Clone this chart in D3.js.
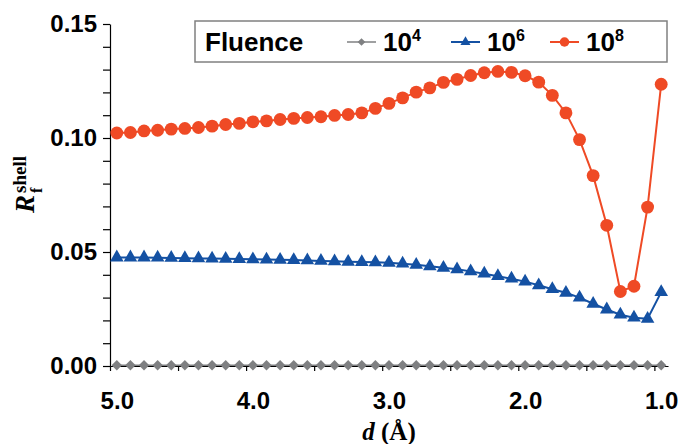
<!DOCTYPE html>
<html>
<head>
<meta charset="utf-8">
<script src="https://cdn.jsdelivr.net/npm/d3@7"></script>
<style>
  body { margin: 0; background: #fff; }
  .axis text { font-family: Arial, "Liberation Sans", sans-serif; font-weight: bold; font-size: 24px; fill: #000; }
  .axis path, .axis line { stroke: #000; stroke-width: 1.2; }
  .legendText { font-family: Arial, "Liberation Sans", sans-serif; font-weight: bold; font-size: 26px; fill: #000; }
  .serif { font-family: "Times New Roman", "Liberation Serif", serif; font-weight: bold; fill: #000; }
</style>
</head>
<body>
<div class="chart"></div>
<script>
// Data: d from 5.0 down to 1.0 in steps of 0.1
var dValues = [5.0, 4.9, 4.8, 4.7, 4.6, 4.5, 4.4, 4.3, 4.2, 4.1,
               4.0, 3.9, 3.8, 3.7, 3.6, 3.5, 3.4, 3.3, 3.2, 3.1,
               3.0, 2.9, 2.8, 2.7, 2.6, 2.5, 2.4, 2.3, 2.2, 2.1,
               2.0, 1.9, 1.8, 1.7, 1.6, 1.5, 1.4, 1.3, 1.2, 1.1, 1.0];

var fluence1e4 = [0.0003, 0.0003, 0.0003, 0.0003, 0.0003, 0.0003, 0.0003, 0.0003, 0.0003, 0.0003,
                  0.0003, 0.0003, 0.0003, 0.0003, 0.0003, 0.0003, 0.0003, 0.0003, 0.0003, 0.0003,
                  0.0003, 0.0003, 0.0003, 0.0003, 0.0003, 0.0003, 0.0003, 0.0003, 0.0003, 0.0003,
                  0.0003, 0.0003, 0.0003, 0.0003, 0.0003, 0.0003, 0.0003, 0.0003, 0.0003, 0.0003, 0.0003];

var fluence1e6 = [0.0476, 0.0476, 0.0476, 0.0475, 0.0474, 0.0473, 0.0472, 0.0471, 0.0470, 0.0469,
                  0.0468, 0.0467, 0.0466, 0.0465, 0.0463, 0.0461, 0.0459, 0.0457, 0.0456, 0.0455,
                  0.0453, 0.0449, 0.0444, 0.0437, 0.0431, 0.0424, 0.0415, 0.0405, 0.0394, 0.0383,
                  0.0370, 0.0354, 0.0337, 0.0321, 0.0300, 0.0273, 0.0248, 0.0225, 0.0212, 0.0207, 0.0324];

var fluence1e8 = [0.1022, 0.1024, 0.1031, 0.1034, 0.1039, 0.1042, 0.1046, 0.1052, 0.1059, 0.1064,
                  0.1071, 0.1075, 0.1081, 0.1086, 0.1090, 0.1093, 0.1099, 0.1103, 0.1110, 0.1130,
                  0.1152, 0.1176, 0.1201, 0.1220, 0.1244, 0.1257, 0.1274, 0.1286, 0.1292, 0.1288,
                  0.1273, 0.1245, 0.1187, 0.1110, 0.0993, 0.0835, 0.0617, 0.0327, 0.0350, 0.0697, 0.1236];

var yMajorTicks = [0.00, 0.05, 0.10, 0.15];
var xTickLabels = [5.0, 4.0, 3.0, 2.0, 1.0];
var legendBase = ["10", "10", "10"];
var legendExp = ["4", "6", "8"];

// Set up our chart
var svgWidth = 678;
var svgHeight = 444;
var margin = { top: 24, right: 10, bottom: 78, left: 110 };
var width = svgWidth - margin.left - margin.right;
var height = svgHeight - margin.top - margin.bottom;

var svg = d3.select(".chart")
    .append("svg")
    .attr("width", svgWidth)
    .attr("height", svgHeight);

var chartGroup = svg.append("g")
    .attr("transform", `translate(${margin.left},${margin.top})`);

// Category-style x axis: each d value sits in the middle of a 0.1 wide slot
var xScale = d3.scaleLinear()
    .domain([5.05, 0.95])
    .range([0, width]);

var yScale = d3.scaleLinear()
    .domain([0, 0.15])
    .range([height, 0]);

// y axis with minor ticks every 0.01
var yTickValues = d3.range(0, 16).map(i => i / 100);
var leftAxis = d3.axisLeft(yScale)
    .tickValues(yTickValues)
    .tickSize(7)
    .tickSizeOuter(0)
    .tickPadding(6)
    .tickFormat(d => yMajorTicks.some(m => Math.abs(m - d) < 1e-9) ? d3.format(".2f")(d) : "");

chartGroup.append("g")
    .attr("class", "axis")
    .call(leftAxis);

// x axis: tick marks on slot boundaries, labels on whole numbers
var xBoundaries = d3.range(0, 9).map(k => 5.05 - 0.5 * k);
var bottomAxis = d3.axisBottom(xScale)
    .tickValues(xBoundaries)
    .tickSize(5)
    .tickSizeOuter(0)
    .tickFormat("");

chartGroup.append("g")
    .attr("class", "axis")
    .attr("transform", `translate(0, ${height})`)
    .call(bottomAxis);

var labelAxis = d3.axisBottom(xScale)
    .tickValues(xTickLabels)
    .tickSize(0)
    .tickPadding(26)
    .tickFormat(d3.format(".1f"));

var labelGroup = chartGroup.append("g")
    .attr("class", "axis")
    .attr("transform", `translate(0, ${height})`)
    .call(labelAxis);
labelGroup.select(".domain").remove();

// Series
var series = [
  { values: fluence1e4, color: "#7f8082", shape: "diamond", lw: 1.5 },
  { values: fluence1e6, color: "#1451a3", shape: "triangle", lw: 2 },
  { values: fluence1e8, color: "#ef4a25", shape: "circle", lw: 2 }
];

function markerPath(shape, scale) {
  if (shape === "circle") return d3.symbol().type(d3.symbolCircle).size(130 * scale)();
  if (shape === "triangle") return d3.symbol().type(d3.symbolTriangle).size(80 * scale)();
  return d3.symbol().type(d3.symbolSquare).size(54 * scale)();
}

var line = d3.line()
    .x((d, i) => xScale(dValues[i]))
    .y(d => yScale(d));

series.forEach(function(s) {
  chartGroup.append("path")
    .datum(s.values)
    .attr("fill", "none")
    .attr("stroke", s.color)
    .attr("stroke-width", s.lw)
    .attr("d", line);

  chartGroup.selectAll(null)
    .data(s.values)
    .enter()
    .append("path")
    .attr("d", markerPath(s.shape, 1))
    .attr("transform", (d, i) => `translate(${xScale(dValues[i])},${yScale(d)})` + (s.shape === "diamond" ? " rotate(45)" : ""))
    .attr("fill", s.color);
});

// Legend
var legend = svg.append("g");
legend.append("rect")
    .attr("x", 195)
    .attr("y", 21)
    .attr("width", 472)
    .attr("height", 41)
    .attr("fill", "#fff")
    .attr("stroke", "#808080")
    .attr("stroke-width", 1.5);

legend.append("text")
    .attr("class", "legendText")
    .attr("x", 205)
    .attr("y", 51)
    .text("Fluence");

var legendX = [347, 451, 550];
series.forEach(function(s, i) {
  var lx = legendX[i];
  legend.append("line")
    .attr("x1", lx).attr("x2", lx + 29)
    .attr("y1", 42).attr("y2", 42)
    .attr("stroke", s.color)
    .attr("stroke-width", s.lw);
  legend.append("path")
    .attr("d", markerPath(s.shape, 0.55))
    .attr("transform", `translate(${lx + 14.5},42)` + (s.shape === "diamond" ? " rotate(45)" : ""))
    .attr("fill", s.color);
  var t = legend.append("text")
    .attr("class", "legendText")
    .attr("x", lx + 36)
    .attr("y", 51);
  t.append("tspan").text(legendBase[i]);
  t.append("tspan").attr("dy", -10).style("font-size", "16px").text(legendExp[i]);
});

// Axis titles
var yTitle = svg.append("g")
    .attr("transform", "translate(34,213) rotate(-90)");
yTitle.append("text")
    .attr("class", "serif")
    .attr("x", 0).attr("y", 0)
    .style("font-size", "27px")
    .style("font-style", "italic")
    .text("R");
yTitle.append("text")
    .attr("class", "serif")
    .attr("x", 20).attr("y", -8)
    .style("font-size", "19px")
    .text("shell");
yTitle.append("text")
    .attr("class", "serif")
    .attr("x", 20).attr("y", 8)
    .style("font-size", "16px")
    .text("f");

var xTitle = svg.append("text")
    .attr("class", "serif")
    .attr("x", margin.left + width / 2)
    .attr("y", 440)
    .attr("text-anchor", "middle")
    .style("font-size", "25px");
xTitle.append("tspan").style("font-style", "italic").text("d");
xTitle.append("tspan").text(" (Å)");
</script>
</body>
</html>
